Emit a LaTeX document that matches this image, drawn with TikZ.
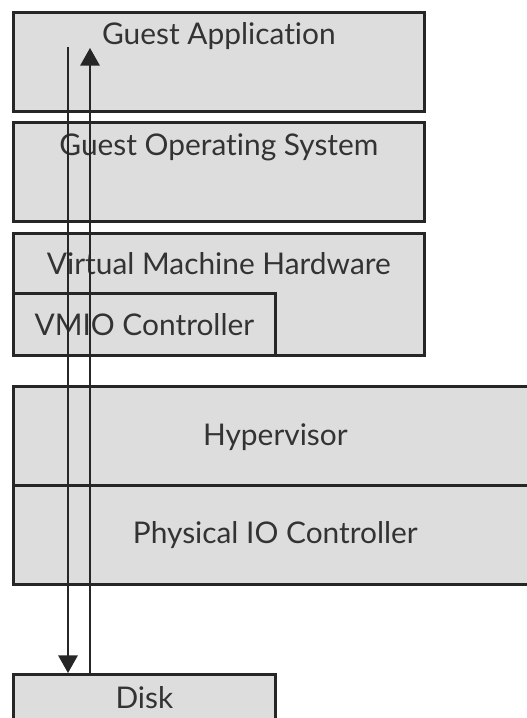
\documentclass[tikz,border=0pt]{standalone}
\usepackage{fontspec}
\setmainfont{Lato}[Ligatures={NoCommon,NoRare}]
\usetikzlibrary{arrows.meta,positioning}

\definecolor{layergray}{HTML}{DDDDDD}
\definecolor{edgegray}{HTML}{262626}

\tikzset{
  layer/.style={draw=edgegray, fill=layergray, line width=1.6pt, inner sep=0pt, anchor=north west},
  lbl/.style={font=\fontsize{17}{20}\selectfont, text=black!80, inner sep=0pt},
  flow/.style={-{Triangle[width=11pt,length=10pt]}, line width=1.1pt, edgegray}
}

\begin{document}
\begin{tikzpicture}[x=0.02cm,y=-0.02cm]
    \useasboundingbox (0,0) rectangle (527,718);

    % guest side
    \node[layer, minimum width=8.22cm, minimum height=1.98cm,
          label={[lbl,anchor=center,yshift=-0.5cm]north:Guest Application}] (guestapp) at (12,11) {};
    \node[layer, minimum width=8.22cm, minimum height=1.98cm,
          label={[lbl,anchor=center,yshift=-0.52cm]north:Guest Operating System}] (guestos) at (12,121) {};
    \node[layer, minimum width=8.22cm, minimum height=2.44cm,
          label={[lbl,anchor=center,yshift=-0.64cm]north:Virtual Machine Hardware}] (vmhw) at (12,232) {};
    \node[layer, minimum width=5.24cm, minimum height=1.24cm,
          label={[lbl,anchor=center,yshift=-0.66cm]north:VMIO Controller}] (vmio) at (12,292) {};

    % host side
    \node[layer, minimum width=10.48cm, minimum height=1.98cm,
          label={[lbl,anchor=center,yshift=-1.04cm]north:Hypervisor}] (hyper) at (12,385) {};
    \node[layer, minimum width=10.48cm, minimum height=1.98cm,
          label={[lbl,anchor=center,yshift=-1.02cm]north:Physical IO Controller}] (physio) at (12,484) {};
    \node[layer, minimum width=5.24cm, minimum height=1.3cm,
          label={[lbl,anchor=center,yshift=-0.5cm]north:Disk}] (disk) at (12,673) {};

    % IO path
    \coordinate (iodown) at (68,47);
    \coordinate (ioup) at (90,48);
    \draw[flow] (iodown) -- (iodown |- disk.north);
    \draw[flow] (ioup |- disk.north) -- (ioup);

\end{tikzpicture}
\end{document}
